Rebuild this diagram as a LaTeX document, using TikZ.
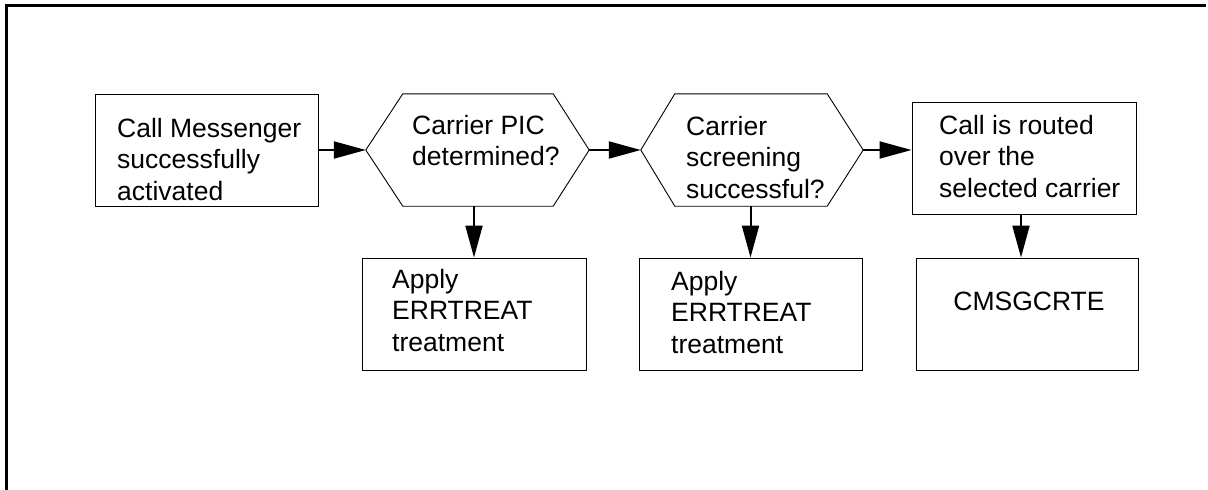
\documentclass[tikz,border=0pt]{standalone}
\usepackage{fontspec}
\setmainfont{Liberation Sans}
\usetikzlibrary{arrows.meta,calc}
\begin{document}
\begin{tikzpicture}[x=1pt,y=-1pt,
  shapebox/.style={draw, line width=0.9pt, inner sep=0pt, minimum width=#1, minimum height=112pt},
  hexarea/.style={inner sep=0pt, minimum width=#1, minimum height=112pt},
  hexline/.style={line width=0.9pt, line join=miter},
  txt/.style={anchor=base west, inner sep=0pt, font=\fontsize{26.5}{31.5}\selectfont},
  ctxt/.style={anchor=base, inner sep=0pt, font=\fontsize{26.5}{31.5}\selectfont},
  conn/.style={line width=2pt, -{Triangle[length=32pt,width=17pt]}}]
\useasboundingbox (0,0) rectangle (1208,490);
% open frame
\draw[line width=2.6pt] (6.3,490) -- (6.3,5.5) -- (1206,5.5);
% nodes
\node[shapebox=223pt] (b1) at (206.5,150) {};
\node[hexarea=223pt] (h1) at (477.5,150) {};
\node[hexarea=222pt] (h2) at (752,150) {};
\node[shapebox=224pt] (b3) at (1024,158) {};
\node[shapebox=224pt] (b4) at (474,314) {};
\node[shapebox=223pt] (b5) at (750.5,314) {};
\node[shapebox=222pt] (b6) at (1027,314) {};
% hexagons
\draw[hexline] (h1.west) -- ($(h1.north west)+(37,0)$) -- ($(h1.north east)+(-36,0)$) -- (h1.east)
  -- ($(h1.south east)+(-36,0)$) -- ($(h1.south west)+(37,0)$) -- cycle;
\draw[hexline] (h2.west) -- ($(h2.north west)+(34,0)$) -- ($(h2.north east)+(-36,0)$) -- (h2.east)
  -- ($(h2.south east)+(-36,0)$) -- ($(h2.south west)+(34,0)$) -- cycle;
% texts
\node[txt] (t1) at (117,137) {\parbox[t]{8cm}{\raggedright Call Messenger\\successfully\\activated}};
\node[txt] (t2) at (412,134) {\parbox[t]{8cm}{\raggedright Carrier PIC\\determined?}};
\node[txt] (t3) at (686,135) {\parbox[t]{8cm}{\raggedright Carrier\\screening\\successful?}};
\node[txt] (t4) at (939,134) {\parbox[t]{8cm}{\raggedright Call is routed\\over the\\selected carrier}};
\node[txt] (t5) at (392,288) {\parbox[t]{8cm}{\raggedright Apply\\ERRTREAT\\treatment}};
\node[txt] (t6) at (671,290) {\parbox[t]{8cm}{\raggedright Apply\\ERRTREAT\\treatment}};
\node[ctxt] (t7) at (1029,310) {CMSGCRTE};
% connectors
\draw[conn] (b1.east) -- (h1.west);
\draw[conn] (h1.east) -- (h2.west);
\draw[conn] (h2.east) -- (h2.east -| b3.west);
\draw[conn] (h1.south -| b4.north) -- (b4.north);
\draw[conn] (h2.south -| b5.north) -- (b5.north);
\draw[conn] ($(b3.south)+(-3,0)$) -- ($(b6.north)+(-6,0)$);
\end{tikzpicture}
\end{document}
